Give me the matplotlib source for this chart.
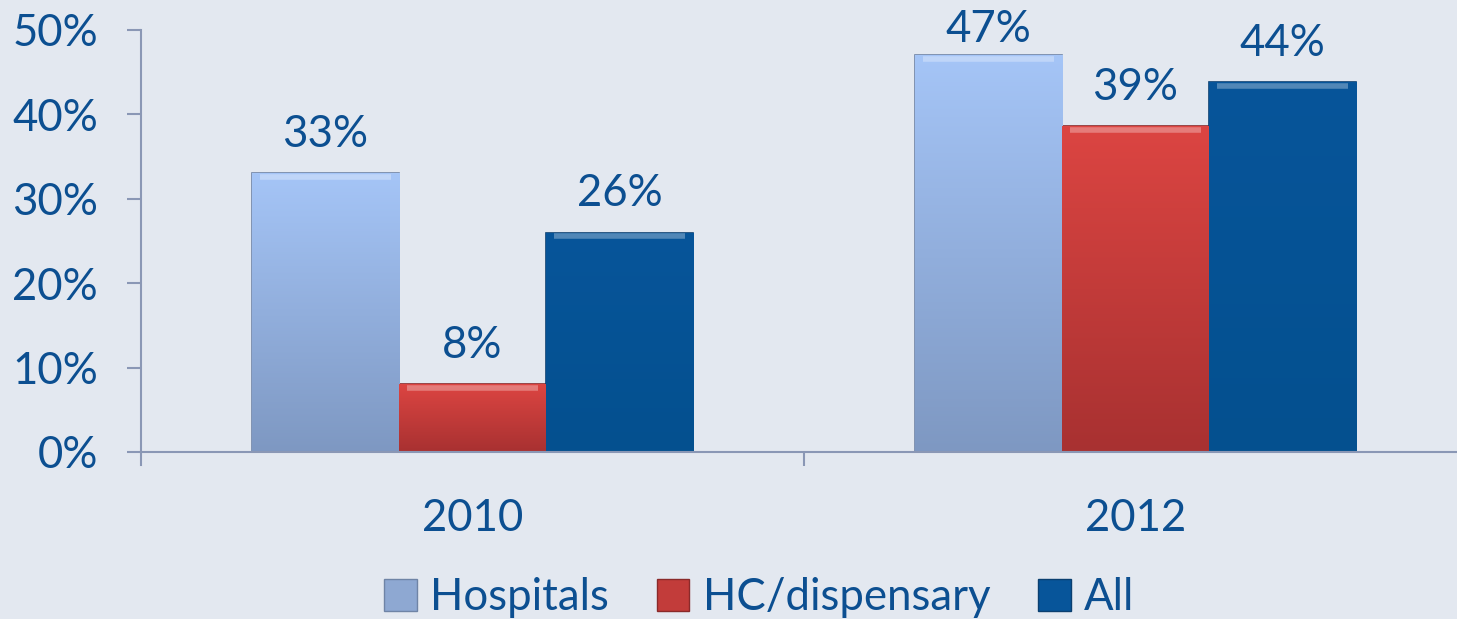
import numpy as np
import matplotlib.pyplot as plt
from matplotlib.colors import LinearSegmentedColormap
from matplotlib.patches import Patch

plt.rcParams['font.family'] = ['Lato', 'DejaVu Sans']

years = ['2010', '2012']
series = ['Hospitals', 'HC/dispensary', 'All']
hospitals = [33, 47]
hc_dispensary = [8, 38.6]
all_fac = [26, 43.8]

values = [hospitals, hc_dispensary, all_fac]
# (top colour, bottom colour) of each series' gradient
grads = [('#a5c5f7', '#7e98c2'), ('#dc4542', '#a83131'), ('#07559a', '#04508f')]
edges = ['#6f84a6', '#8a2a2a', '#0b3f70']
txt = '#0c4f91'
fs = 31.5

fig = plt.figure(figsize=(14.57, 6.19), dpi=100)
fig.patch.set_facecolor('#e3e8f0')
ax = fig.add_axes([141 / 1457, 167 / 619, (1467 - 141) / 1457, 422 / 619])
ax.set_facecolor('none')

x = np.arange(len(years))
w = 0.222
for i, (vals, g, ec) in enumerate(zip(values, grads, edges)):
    pos = x + (i - 1) * w
    bars = ax.bar(pos, vals, width=w, color=g[0], edgecolor=ec, linewidth=1.2, zorder=2)
    cmap = LinearSegmentedColormap.from_list('g%d' % i, [g[1], g[0]])
    for b, v in zip(bars, vals):
        bx, bw, bh = b.get_x(), b.get_width(), b.get_height()
        grad = np.linspace(0, 1, 256).reshape(-1, 1)
        im = ax.imshow(grad, extent=[bx, bx + bw, 0, bh], origin='lower',
                       aspect='auto', cmap=cmap, zorder=2.1)
        im.set_clip_path(b)
        # light bevel on top
        ax.plot([bx + 0.012, bx + bw - 0.012], [bh - 0.4, bh - 0.4],
                color='white', alpha=0.3, lw=4, zorder=2.2, solid_capstyle='butt')
        ax.text(bx + bw / 2, min(bh + 4.6, 50), '%.0f%%' % v, ha='center', va='center',
                fontsize=fs, color=txt, zorder=3)

ax.set_xlim(-0.5, 1.5)
ax.set_ylim(0, 50)
ax.set_yticks(range(0, 51, 10))
ax.set_yticklabels(['%d%%' % t for t in range(0, 51, 10)])
ax.set_xticks([0.5])
ax.set_xticklabels([])
ax.tick_params(axis='y', colors='#8a97b5', labelcolor=txt, labelsize=fs,
               length=10, width=1.5, pad=21)
ax.tick_params(axis='x', colors='#8a97b5', length=10, width=1.5, direction='out')
for yr, xi in zip(years, x):
    ax.text(xi, -5.5, yr, ha='center', va='top', fontsize=fs, color=txt)

for s in ['top', 'right']:
    ax.spines[s].set_visible(False)
for s in ['left', 'bottom']:
    ax.spines[s].set_color('#8a97b5')
    ax.spines[s].set_linewidth(1.5)
ax.spines['left'].set_bounds(-1.5, 50)

handles = [Patch(facecolor='#8ea8d2', edgecolor=edges[0]),
           Patch(facecolor='#c23c3a', edgecolor=edges[1]),
           Patch(facecolor=grads[2][0], edgecolor=edges[2])]
fig.legend(handles, series, loc='lower center', bbox_to_anchor=(0.521, -0.062),
           ncol=3, frameon=False, fontsize=fs, labelcolor=txt,
           handlelength=0.75, handleheight=0.75, handletextpad=0.3, columnspacing=1.1)

fig.savefig('out.png', dpi=100, facecolor=fig.get_facecolor())
